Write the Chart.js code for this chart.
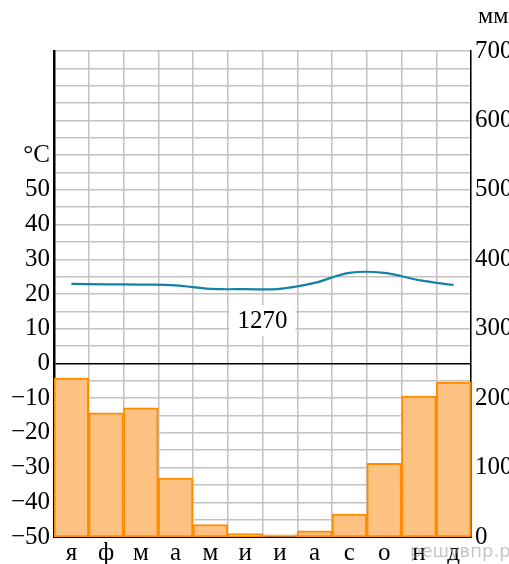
<!DOCTYPE html>
<html>
<head>
<meta charset="utf-8">
<script src="https://cdn.jsdelivr.net/npm/chart.js@4"></script>
<style>
  html, body { margin: 0; padding: 0; background: #fff; }
  #wrap { width: 509px; height: 564px; position: relative; }
</style>
</head>
<body>
<div id="wrap"><canvas id="climate"></canvas></div>
<script>
const months = ["я", "ф", "м", "а", "м", "и", "и", "а", "с", "о", "н", "д"];
const precipitation = [229, 179, 186, 85, 18, 5, 3, 9, 33, 106, 203, 223];
const temperature = [22.9, 22.8, 22.7, 22.5, 21.5, 21.4, 21.5, 23.2, 26.1, 26.1, 24.0, 22.6];
const totalPrecip = "1270";
const tempLabels = [-50, -40, -30, -20, -10, 0, 10, 20, 30, 40, 50];
const precipTicks = [0, 100, 200, 300, 400, 500, 600, 700];

const colors = {
  barFill: "#fdc281",
  barBorder: "#ff8c00",
  line: "#1481a8",
  grid: "#c2c2c2",
  axis: "#000",
};

const serif = { family: "'Liberation Serif', 'DejaVu Serif', serif", size: 25 };

const extras = {
  id: "extras",
  afterDatasetsDraw(chart) {
    const ctx = chart.ctx;
    const x = chart.scales.x;
    const t = chart.scales.temp;
    const cx = (x.getPixelForValue(5) + x.getPixelForValue(6)) / 2;
    const cy = t.getPixelForValue(12.5);
    ctx.save();
    ctx.fillStyle = "#fff";
    ctx.fillRect(cx - 33, cy - 15, 66, 31);
    ctx.fillStyle = "#000";
    ctx.font = "25px 'Liberation Serif', serif";
    ctx.textAlign = "center";
    ctx.textBaseline = "middle";
    ctx.fillText(totalPrecip, cx, cy + 1);
    ctx.restore();
  },
  afterDraw(chart) {
    const ctx = chart.ctx;
    const area = chart.chartArea;
    ctx.save();
    ctx.fillStyle = "#000";
    ctx.font = "24px 'Liberation Serif', serif";
    ctx.textAlign = "left";
    ctx.textBaseline = "middle";
    ctx.fillText("мм", area.right + 7, 17);
    ctx.fillStyle = "rgba(150,150,150,0.55)";
    ctx.font = "18px 'DejaVu Sans', sans-serif";
    ctx.textBaseline = "alphabetic";
    ctx.fillText("решувпр.рф", 410, 557);
    ctx.restore();
  },
};

new Chart(document.getElementById("climate"), {
  data: {
    labels: months,
    datasets: [
      {
        type: "line",
        data: temperature,
        yAxisID: "temp",
        borderColor: colors.line,
        borderWidth: 2.2,
        pointRadius: 0,
        tension: 0.4,
        fill: false,
      },
      {
        type: "bar",
        data: precipitation,
        yAxisID: "mm",
        backgroundColor: colors.barFill,
        borderColor: colors.barBorder,
        borderWidth: 2,
        borderSkipped: false,
        categoryPercentage: 1,
        barPercentage: 1,
      },
    ],
  },
  options: {
    responsive: true,
    maintainAspectRatio: false,
    animation: false,
    layout: { padding: { top: 51, left: 0, right: 0, bottom: 0 } },
    plugins: { legend: { display: false }, tooltip: { enabled: false } },
    scales: {
      x: {
        grid: { color: colors.grid, lineWidth: 1.5, drawTicks: false, offset: true },
        border: { color: colors.axis, width: 2 },
        ticks: { font: serif, color: "#000", padding: 1, maxRotation: 0, autoSkip: false },
        afterFit: (s) => { s.height = 27; },
      },
      temp: {
        position: "left",
        min: -50,
        max: 90,
        grid: {
          color: (c) => (c.tick && c.tick.value === 0 ? colors.axis : colors.grid),
          lineWidth: 1.5,
          drawTicks: false,
        },
        border: { color: colors.axis, width: 2.5 },
        ticks: {
          stepSize: 5,
          autoSkip: false,
          font: serif,
          color: "#000",
          padding: 4,
          callback: (v) => {
            if (v === 60) return "°C";
            if (!tempLabels.includes(v)) return "";
            return v < 0 ? "−" + Math.abs(v) : String(v);
          },
        },
        afterFit: (s) => { s.width = 54; },
      },
      mm: {
        position: "right",
        min: 0,
        max: 700,
        grid: { display: false, drawTicks: false },
        border: { color: colors.axis, width: 1.5 },
        afterBuildTicks: (s) => { s.ticks = precipTicks.map((v) => ({ value: v })); },
        ticks: { font: serif, color: "#000", padding: 4, autoSkip: false },
        afterFit: (s) => { s.width = 38; },
      },
    },
  },
  plugins: [extras],
});
</script>
</body>
</html>
